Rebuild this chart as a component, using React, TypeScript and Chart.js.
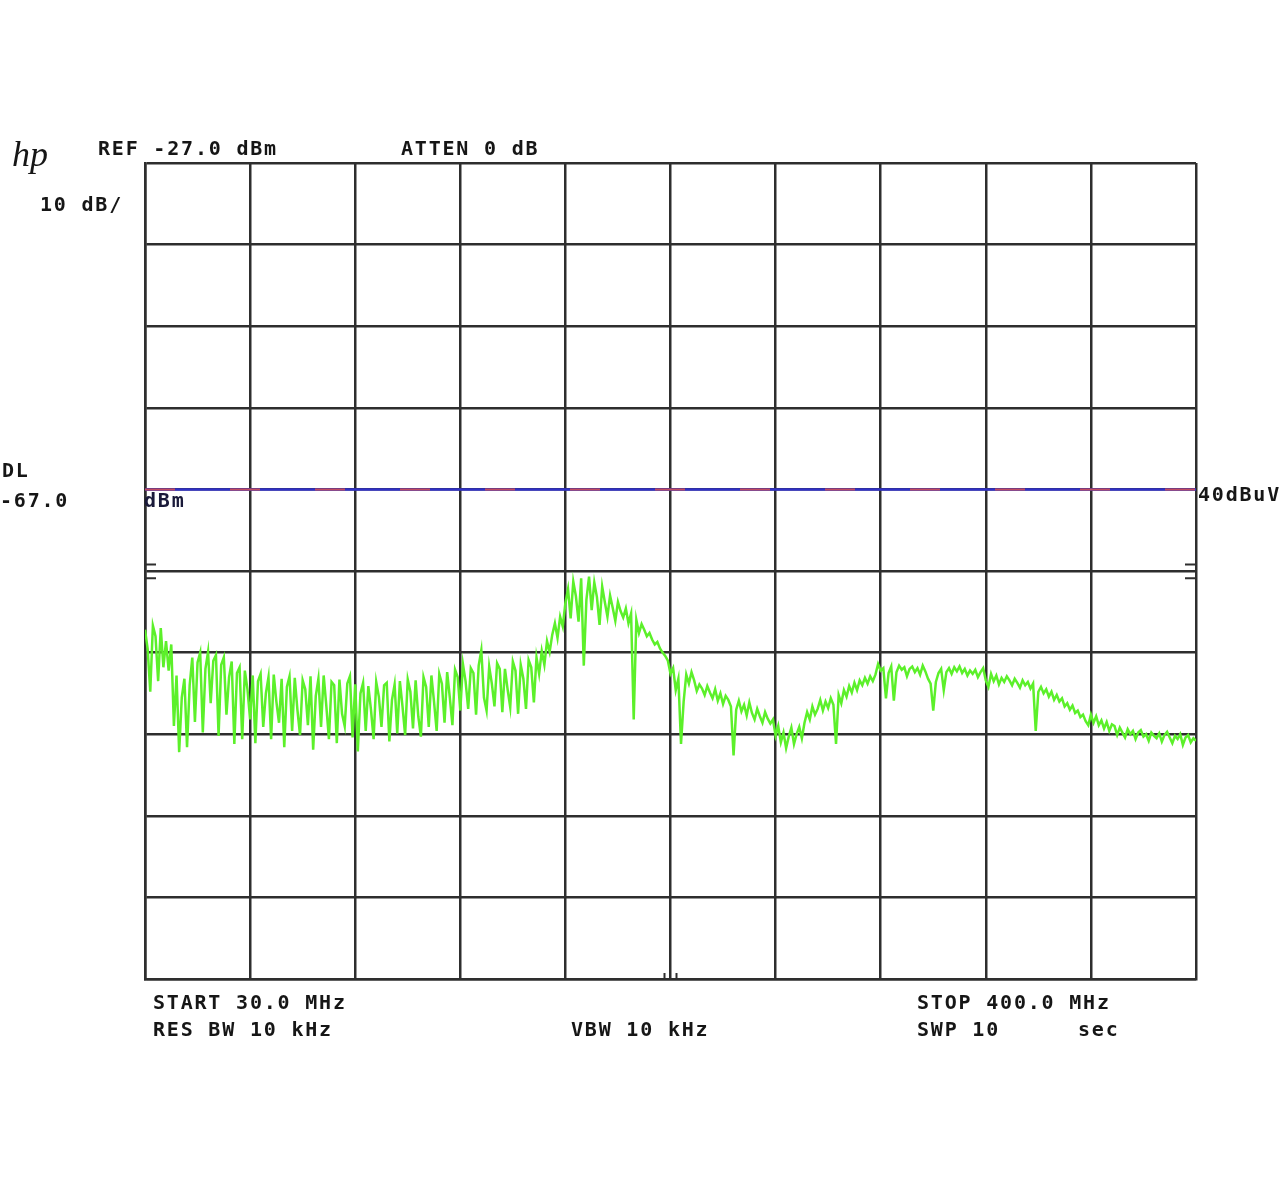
import { useEffect, useRef } from "react";
import { Chart, registerables } from "chart.js";

Chart.register(...registerables);

// Sweep settings (spectrum analyzer, 401 trace points)
const START_MHZ = 30;
const STOP_MHZ = 400;
const REF_DBM = -27;
const DB_PER_DIV = 10;
const DIVISIONS = 10;
const DISPLAY_LINE_DBM = -67;
const REF_MARKS_DBM = [-76.2, -77.9];

// Trace readings in dBm, left to right (segments of the sweep)
const segA = [-84.2, -86.5, -91.8, -83.7, -85.0, -90.5, -84.0, -88.8, -85.6, -89.2, -86.0];
const segB = [-96.0, -89.8, -99.2, -92.5, -90.2, -98.6, -91.0];
const segC = [
  -87.6, -95.5, -88.2, -87.0, -96.8, -89.0, -86.9, -93.2, -88.0, -87.3,
  -97.2, -88.5, -87.6, -94.6, -90.0, -88.1, -98.2, -89.5, -88.8,
];
const segD = [
  -97.6, -89.2, -91.5, -95.2, -89.8, -98.1, -90.5, -89.6, -96.1, -92.0,
  -90.0, -97.6, -89.7, -93.0, -95.6, -90.2, -98.6, -91.2, -89.9, -96.6,
  -90.1, -94.0, -97.1, -90.4, -91.5, -95.9, -89.9, -98.9, -92.3, -90.2,
  -96.1, -89.8, -93.5, -97.6, -90.6, -91.0, -98.1, -90.3, -94.5, -96.0,
  -90.8, -89.9, -97.4,
];
const segE = [
  -90.9, -99.1, -92.0, -90.7, -96.6, -91.1, -94.0, -97.6, -90.6, -92.4,
  -96.1, -91.0, -90.7, -97.9, -92.8, -90.9, -96.9, -90.5, -93.6, -97.1,
  -90.3, -91.8, -96.3, -90.4, -94.8, -97.3, -90.0, -91.2, -96.1, -89.8,
  -93.0, -96.6, -89.6, -90.8, -95.6, -89.4, -92.5, -95.9, -89.1, -90.0,
];
const segF = [
  -94.1, -88.4, -90.5, -93.9, -88.9, -89.5, -94.6, -88.6, -86.7, -92.5,
  -94.1, -88.7, -90.8, -93.6, -88.3, -89.0, -94.3, -89.0, -91.5, -93.7,
  -88.1, -89.2, -94.5, -88.5, -90.2, -93.9, -87.9, -88.8, -93.1, -87.6,
];
const segG = [-89.6, -86.8, -88.5, -85.6, -86.9, -84.8, -83.4, -85.2, -82.6, -83.8, -80.9];
const segH = [-79.2, -82.8, -78.3, -80.1, -83.2, -77.9, -88.6, -80.5, -77.7, -81.8, -78.4, -80.2, -83.6, -78.9, -80.8];
const segI = [
  -82.6, -80.0, -81.5, -83.1, -80.8, -81.9, -82.7, -81.6, -83.4, -82.2,
  -95.2, -83.0, -84.6, -83.5, -84.2, -85.0, -84.6, -85.4, -86.0, -85.7,
  -86.5, -87.0, -87.4,
];
const segJ = [-88.0, -89.6, -88.9, -91.6, -90.2, -98.2, -93.0, -89.7, -90.8, -89.4];
const segK = [
  -90.4, -91.7, -90.9, -91.4, -92.2, -91.1, -91.9, -92.6, -91.5, -92.9,
  -92.0, -93.3, -92.3, -92.8, -93.6, -99.6, -94.0, -92.9, -94.2, -93.4,
  -94.7, -93.1, -94.4, -95.2, -93.9, -94.8, -95.6, -94.3, -95.1, -95.7,
];
const segL = [-95.2, -97.2, -96.0, -98.0, -96.8, -98.7, -97.3, -96.2, -98.2, -97.0, -96.1, -97.5];
const segM = [-95.6, -94.3, -95.2, -93.6, -94.6, -93.9, -92.8, -94.1, -93.0, -93.8, -92.6, -93.4, -98.2];
const segN = [-92.2, -93.2, -91.6, -92.4, -91.1, -91.9, -90.7, -91.6, -90.4, -91.0, -90.1, -90.8, -89.9, -90.5, -89.7];
const segO = [
  -88.4, -89.2, -88.9, -92.6, -89.5, -88.7, -92.9, -89.4, -88.6, -89.1,
  -88.8, -89.9, -89.0, -88.7, -89.4, -88.9, -89.7, -88.6, -89.3, -90.2,
  -90.8, -94.1, -90.6, -89.5, -89.0, -91.6, -89.4, -88.9, -89.6, -88.8,
  -89.3, -88.7, -89.5, -89.0, -89.8, -89.2, -89.6, -89.1, -90.0, -89.4,
];
const segP = [
  -88.9, -90.4, -91.2, -89.6, -90.5, -89.8, -90.9, -90.1, -90.6, -89.9,
  -90.4, -91.0, -90.2, -90.7, -91.3, -90.4, -91.0, -90.6, -91.4, -90.8,
];
const segQ = [
  -96.6, -91.8, -91.2, -92.0, -91.5, -92.4, -91.8, -92.8, -92.2, -93.0,
  -92.6, -93.6, -93.2, -94.0, -93.5, -94.4, -94.1, -94.9, -94.6, -95.4, -95.9,
];
const segR = [
  -94.6, -95.6, -94.8, -95.9, -95.3, -96.3, -95.5, -96.6, -95.8, -96.0,
  -97.1, -96.2, -96.8, -97.4, -96.4, -97.0, -96.6, -97.6, -96.8, -96.5,
  -97.3, -97.0, -97.8, -96.8, -97.2, -97.5, -96.9, -97.9, -97.1, -96.7,
  -97.4, -98.1, -97.2, -97.6, -97.0, -98.3, -97.4, -97.1, -98.0, -97.5, -97.8,
];

const TRACE_DBM = [
  ...segA, ...segB, ...segC, ...segD, ...segE, ...segF, ...segG, ...segH, ...segI,
  ...segJ, ...segK, ...segL, ...segM, ...segN, ...segO, ...segP, ...segQ, ...segR,
];

// Screen annotations
const TOP_LABELS = ["REF -27.0 dBm", "ATTEN 0 dB", "10 dB/"];
const DL_LABELS = ["DL", "-67.0", "dBm", "40dBuV"];
const BOTTOM_LABELS = ["START 30.0 MHz", "RES BW 10 kHz", "VBW 10 kHz", "STOP 400.0 MHz", "SWP 10", "sec"];

const GRID = "#2e2e2e";
const TEXT = "#161616";

export default function App() {
  const ref = useRef<HTMLCanvasElement | null>(null);

  useEffect(() => {
    const canvas = ref.current;
    if (!canvas) return;

    const stepMHz = (STOP_MHZ - START_MHZ) / (TRACE_DBM.length - 1);
    const trace = TRACE_DBM.map((v, i) => ({ x: START_MHZ + i * stepMHz, y: v }));
    const dl = [
      { x: START_MHZ, y: DISPLAY_LINE_DBM },
      { x: STOP_MHZ, y: DISPLAY_LINE_DBM },
    ];
    const bottom = REF_DBM - DB_PER_DIV * DIVISIONS;

    const labelsPlugin = {
      id: "hpLabels",
      afterDraw(chart: any) {
        const ctx = chart.ctx as CanvasRenderingContext2D;
        const xs = chart.scales.x;
        const ys = chart.scales.y;
        const area = chart.chartArea;
        ctx.save();
        // reference marks
        ctx.strokeStyle = GRID;
        ctx.lineWidth = 2;
        REF_MARKS_DBM.forEach((v) => {
          const py = ys.getPixelForValue(v);
          ctx.beginPath();
          ctx.moveTo(area.left, py);
          ctx.lineTo(area.left + 11, py);
          ctx.moveTo(area.right - 11, py);
          ctx.lineTo(area.right, py);
          ctx.stroke();
        });
        // center frequency marks
        const cx = xs.getPixelForValue((START_MHZ + STOP_MHZ) / 2);
        [-6, 6].forEach((d) => {
          ctx.beginPath();
          ctx.moveTo(cx + d, area.bottom);
          ctx.lineTo(cx + d, area.bottom - 6);
          ctx.stroke();
        });

        // hp logo
        ctx.fillStyle = TEXT;
        ctx.font = "italic 36px 'Liberation Serif'";
        ctx.textBaseline = "alphabetic";
        (ctx as any).letterSpacing = "0px";
        ctx.fillText("hp", 12, 166);

        ctx.font = "bold 20px 'DejaVu Sans Mono'";
        (ctx as any).letterSpacing = "1.8px";
        ctx.fillText(TOP_LABELS[0], 98, 155);
        ctx.fillText(TOP_LABELS[1], 401, 155);
        ctx.fillText(TOP_LABELS[2], 40, 211);

        ctx.fillText(DL_LABELS[0], 2, 477);
        ctx.fillText(DL_LABELS[1], 0, 507);
        ctx.fillStyle = "#1a1a3a";
        ctx.fillText(DL_LABELS[2], 144, 507);
        ctx.fillStyle = TEXT;
        ctx.fillText(DL_LABELS[3], 1198, 501);

        ctx.fillText(BOTTOM_LABELS[0], 153, 1009);
        ctx.fillText(BOTTOM_LABELS[1], 153, 1036);
        ctx.fillText(BOTTOM_LABELS[2], 571, 1036);
        ctx.fillText(BOTTOM_LABELS[3], 917, 1009);
        ctx.fillText(BOTTOM_LABELS[4], 917, 1036);
        ctx.fillText(BOTTOM_LABELS[5], 1078, 1036);
        ctx.restore();
      },
    };

    const chart = new Chart(canvas, {
      type: "line",
      data: {
        datasets: [
          {
            label: "DL",
            data: dl,
            borderColor: "#3030c8",
            borderWidth: 2.5,
            pointRadius: 0,
            order: 2,
          },
          {
            label: "DL2",
            data: dl,
            borderColor: "rgba(220,80,80,0.85)",
            borderWidth: 2,
            borderDash: [30, 55],
            pointRadius: 0,
            order: 1,
          },
          {
            label: "Trace",
            data: trace,
            borderColor: "#5cf02a",
            borderWidth: 2.5,
            pointRadius: 0,
            tension: 0,
            order: 0,
          },
        ],
      },
      options: {
        animation: false,
        responsive: false,
        maintainAspectRatio: false,
        layout: { padding: { left: 145, top: 163, right: 84, bottom: 211 } },
        plugins: { legend: { display: false }, tooltip: { enabled: false } },
        scales: {
          x: {
            type: "linear",
            min: START_MHZ,
            max: STOP_MHZ,
            ticks: { display: false, stepSize: (STOP_MHZ - START_MHZ) / DIVISIONS },
            grid: { color: GRID, lineWidth: 2.5, drawTicks: false },
            border: { display: true, color: GRID, width: 2.5 },
          },
          y: {
            type: "linear",
            min: bottom,
            max: REF_DBM,
            ticks: { display: false, stepSize: DB_PER_DIV },
            grid: { color: GRID, lineWidth: 2.5, drawTicks: false },
            border: { display: true, color: GRID, width: 2.5 },
          },
        },
      },
      plugins: [labelsPlugin],
    });

    return () => chart.destroy();
  }, []);

  return (
    <div style={{ position: "absolute", left: 0, top: 0, width: 1280, height: 1190, background: "#fff" }}>
      <canvas ref={ref} width={1280} height={1190} style={{ width: 1280, height: 1190, display: "block" }} />
    </div>
  );
}
